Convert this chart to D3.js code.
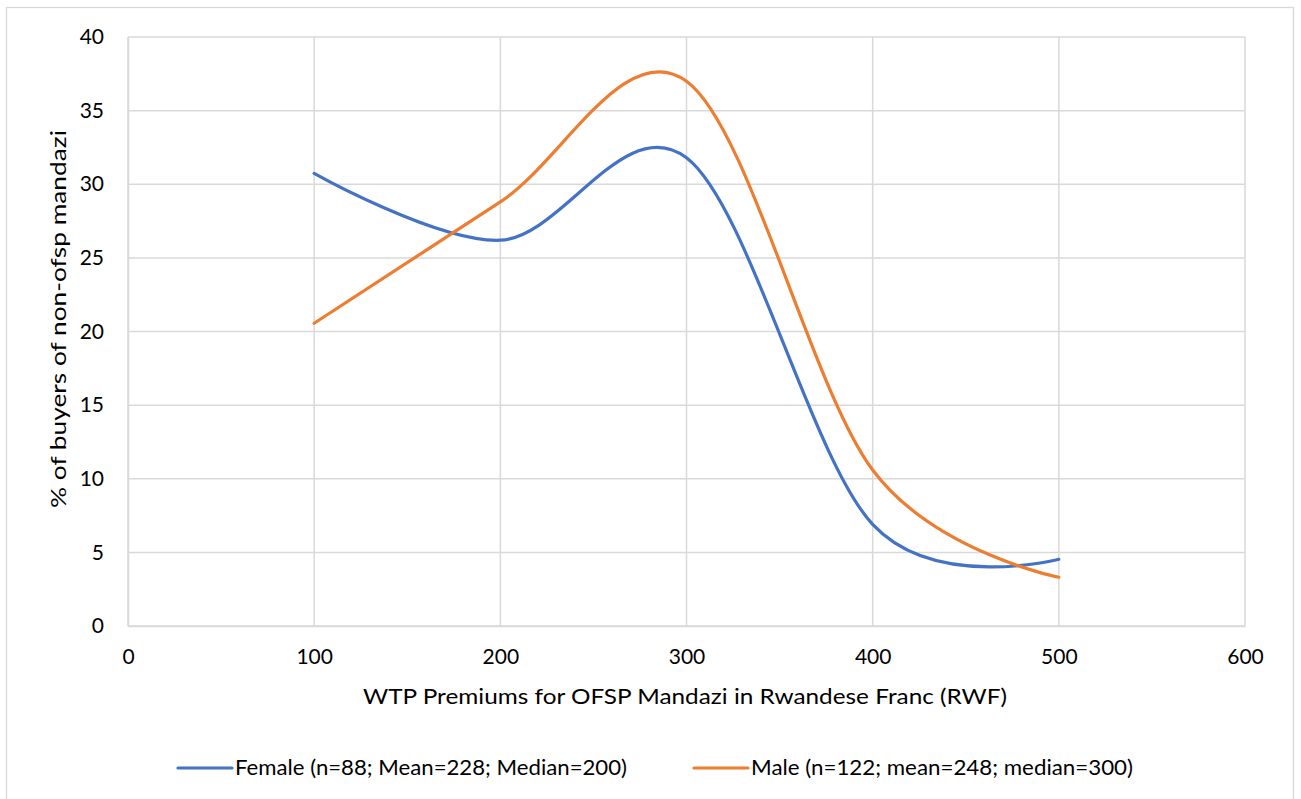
<!DOCTYPE html>
<html>
<head>
<meta charset="utf-8">
<script src="https://cdn.jsdelivr.net/npm/d3@7"></script>
<style>
  body { margin: 0; background: #fff; }
  text { font-family: Lato, "Open Sans", sans-serif; fill: #000; }
</style>
</head>
<body>
<div id="chart"></div>
<script>
// premiums (RWF) and % of buyers of non-ofsp mandazi
var premiums = [100, 200, 300, 400, 500]
var female = [30.74, 26.2, 31.8, 6.9, 4.53]
var male = [20.56, 28.8, 37.0, 10.6, 3.31]
var seriesNames = ["Female (n=88; Mean=228; Median=200)", "Male (n=122; mean=248; median=300)"]
var xTicks = [0, 100, 200, 300, 400, 500, 600]
var yTicks = [0, 5, 10, 15, 20, 25, 30, 35, 40]

var W = 1301, H = 799
var margin = { top: 37, right: 56, bottom: 173, left: 128 }
var width = W - margin.left - margin.right
var height = H - margin.top - margin.bottom
var grid = "#d9d9d9"

var svg = d3.select("#chart").append("svg")
  .attr("width", W)
  .attr("height", H)

// outer chart border
svg.append("rect")
  .attr("x", 6.5).attr("y", 7.5)
  .attr("width", 1287).attr("height", 800)
  .attr("fill", "none").attr("stroke", grid).attr("stroke-width", 1.3)

var g = svg.append("g")
  .attr("transform", "translate(" + margin.left + "," + margin.top + ")")

var x = d3.scaleLinear().domain([0, 600]).range([0, width])
var y = d3.scaleLinear().domain([0, 40]).range([height, 0])

// gridlines
g.append("g").selectAll("line").data(yTicks).enter().append("line")
  .attr("x1", 0).attr("x2", width)
  .attr("y1", function(d) { return y(d) }).attr("y2", function(d) { return y(d) })
  .attr("stroke", grid).attr("stroke-width", 1.5)
g.append("g").selectAll("line").data(xTicks).enter().append("line")
  .attr("y1", 0).attr("y2", height)
  .attr("x1", function(d) { return x(d) }).attr("x2", function(d) { return x(d) })
  .attr("stroke", grid).attr("stroke-width", 1.5)

// axes (labels only, lines drawn as grid)
var xAxis = g.append("g")
  .attr("transform", "translate(0," + height + ")")
  .call(d3.axisBottom(x).tickValues(xTicks).tickSize(0).tickPadding(23))
xAxis.select(".domain").attr("stroke", grid).attr("stroke-width", 1.5)
xAxis.selectAll("text").style("font-size", "21px").style("font-family", "Lato")

var yAxis = g.append("g")
  .call(d3.axisLeft(y).tickValues(yTicks).tickSize(0).tickPadding(24))
yAxis.select(".domain").attr("stroke", grid).attr("stroke-width", 1.5)
yAxis.selectAll("text").style("font-size", "21px").style("font-family", "Lato")

// axis titles
svg.append("text")
  .attr("x", 685).attr("y", 704)
  .attr("text-anchor", "middle")
  .attr("textLength", 644).attr("lengthAdjust", "spacingAndGlyphs")
  .style("font-size", "22px")
  .text("WTP Premiums for OFSP Mandazi in Rwandese Franc (RWF)")

svg.append("text")
  .attr("transform", "translate(66,319) rotate(-90)")
  .attr("text-anchor", "middle")
  .attr("textLength", 378).attr("lengthAdjust", "spacingAndGlyphs")
  .style("font-size", "22px")
  .text("% of buyers of non-ofsp mandazi")

// smooth lines like excel
var line = d3.line()
  .x(function(d) { return x(d[0]) })
  .y(function(d) { return y(d[1]) })
  .curve(d3.curveCardinal.tension(0))

var series = [
  { name: seriesNames[0], values: female, color: "#4472C4", len: 392 },
  { name: seriesNames[1], values: male, color: "#ED7D31", len: 382 }
]

g.selectAll(".series").data(series).enter().append("path")
  .attr("class", "series")
  .attr("d", function(s) { return line(premiums.map(function(p, i) { return [p, s.values[i]] })) })
  .attr("fill", "none")
  .attr("stroke", function(s) { return s.color })
  .attr("stroke-width", 3.2)
  .attr("stroke-linecap", "round")

// legend
var legX = [178, 694]
var leg = svg.selectAll(".leg").data(series).enter().append("g")
  .attr("class", "leg")
  .attr("transform", function(s, i) { return "translate(" + legX[i] + ",768)" })
leg.append("line")
  .attr("x1", 0).attr("x2", 54)
  .attr("stroke", function(s) { return s.color })
  .attr("stroke-width", 3.2)
  .attr("stroke-linecap", "round")
leg.append("text")
  .attr("x", 57).attr("dy", "0.35em")
  .attr("textLength", function(s) { return s.len }).attr("lengthAdjust", "spacingAndGlyphs")
  .style("font-size", "21px")
  .text(function(s) { return s.name })
</script>
</body>
</html>
